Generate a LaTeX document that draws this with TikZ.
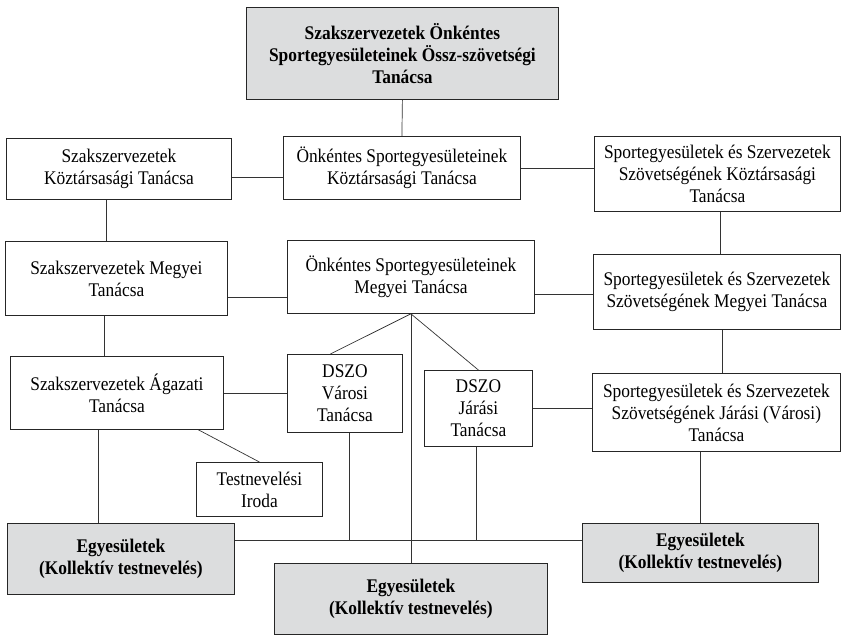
\documentclass[tikz,border=0pt]{standalone}
\usepackage{fontspec}
\setmainfont{Liberation Serif}[FakeStretch=0.9]
\usepackage{tikz}
\definecolor{boxgray}{RGB}{220,221,222}

\begin{document}
\begin{tikzpicture}[x=1pt,y=-1pt,
    box/.style={draw=black!85,line width=.8pt,align=center,inner sep=0pt,anchor=north west,font=\fontsize{19.3}{22}\selectfont},
    gbox/.style={box,fill=boxgray,font=\fontsize{19.3}{22}\selectfont\bfseries},
    link/.style={draw=black!80,line width=.7pt}]
        \useasboundingbox (0,0) rectangle (842,635);

        \node[gbox,minimum width=312pt,minimum height=92pt] (osz) at (246,7) {Szakszervezetek Önkéntes\\Sportegyesületeinek Össz-szövetségi\\Tanácsa};
        \node[box,minimum width=225pt,minimum height=61pt] (ksz) at (6,138) {Szakszervezetek\\Köztársasági Tanácsa};
        \node[box,minimum width=237pt,minimum height=63pt] (okt) at (283,136) {Önkéntes Sportegyesületeinek\\Köztársasági Tanácsa};
        \node[box,minimum width=246pt,minimum height=75pt] (skt) at (594,136) {Sportegyesületek és Szervezetek\\Szövetségének Köztársasági\\Tanácsa};
        \node[box,minimum width=222pt,minimum height=74pt] (szm) at (5,241) {Szakszervezetek Megyei\\Tanácsa};
        \node[box,minimum width=247pt,minimum height=73pt] (okm) at (287,240) {Önkéntes Sportegyesületeinek\\Megyei Tanácsa};
        \node[box,minimum width=247pt,minimum height=75pt] (sszm) at (593,254) {Sportegyesületek és Szervezetek\\Szövetségének Megyei Tanácsa};
        \node[box,minimum width=213pt,minimum height=73pt] (sza) at (10,356) {Szakszervezetek Ágazati\\Tanácsa};
        \node[box,minimum width=115pt,minimum height=78pt] (dv) at (287,354) {DSZO\\Városi\\Tanácsa};
        \node[box,minimum width=108pt,minimum height=76pt] (dj) at (424,370) {DSZO\\Járási\\Tanácsa};
        \node[box,minimum width=248pt,minimum height=78pt] (ssj) at (592,373) {Sportegyesületek és Szervezetek\\Szövetségének Járási (Városi)\\Tanácsa};
        \node[box,minimum width=126pt,minimum height=54pt] (tni) at (196,462) {Testnevelési\\Iroda};
        \node[gbox,minimum width=227pt,minimum height=71pt] (e1) at (7,523) {Egyesületek\\(Kollektív testnevelés)};
        \node[gbox,minimum width=273pt,minimum height=71pt] (e2) at (274,563) {Egyesületek\\(Kollektív testnevelés)};
        \node[gbox,minimum width=236pt,minimum height=59pt] (e3) at (582,523) {Egyesületek\\(Kollektív testnevelés)};

        \coordinate (bus) at ([yshift=18.5pt]e1.east);

        \draw[link] (osz.south) -- (okt.north);
        \draw[link] ([yshift=-8.5pt]ksz.east) -- ([yshift=-8.5pt]ksz.east -| okt.west);
        \draw[link] (okt.east) -- (okt.east -| skt.west);
        \draw[link] ([xshift=-12.5pt]ksz.south) -- ([xshift=-12.5pt]ksz.south |- szm.north);
        \draw[link] ([xshift=3pt]skt.south) -- ([xshift=3pt]skt.south |- sszm.north);
        \draw[link] ([yshift=-19pt]szm.east) -- ([yshift=-19pt]szm.east -| okm.west);
        \draw[link] ([yshift=-17.5pt]okm.east) -- ([yshift=-17.5pt]okm.east -| sszm.west);
        \draw[link] ([xshift=-12pt]szm.south) -- ([xshift=-12pt]szm.south |- sza.north);
        \draw[link] ([xshift=5.5pt]sszm.south) -- ([xshift=5.5pt]sszm.south |- ssj.north);
        \draw[link] (okm.south) -- ([xshift=-14.5pt]dv.north);
        \draw[link] (okm.south) -- (dj.north);
        \draw[link] (okm.south) -- (e2.north);
        \draw[link] (sza.east) -- (sza.east -| dv.west);
        \draw[link] (dj.east) -- (dj.east -| ssj.west);
        \draw[link] ([xshift=-18.5pt]sza.south) -- ([xshift=-18.5pt]sza.south |- e1.north);
        \draw[link] ([xshift=81.5pt]sza.south) -- (tni.north);
        \draw[link] (bus) -- (bus -| e3.west);
        \draw[link] ([xshift=4.5pt]dv.south) -- ([xshift=4.5pt]dv.south |- bus);
        \draw[link] ([xshift=-2pt]dj.south) -- ([xshift=-2pt]dj.south |- bus);
        \draw[link] (e3.north) -- (e3.north |- ssj.south);
      \end{tikzpicture}
\end{document}
